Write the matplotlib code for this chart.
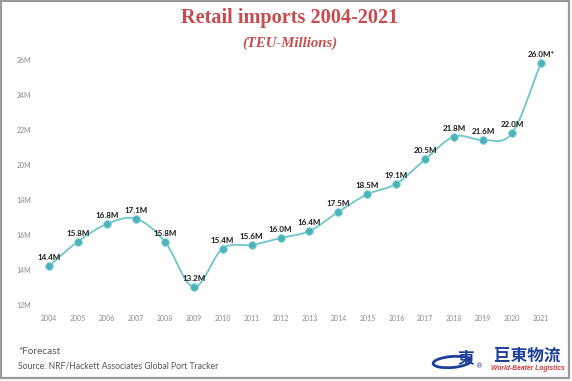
import numpy as np
import matplotlib
matplotlib.use("Agg")
import matplotlib.pyplot as plt
from matplotlib.patches import Rectangle, Ellipse
from matplotlib.transforms import ScaledTranslation

years = list(range(2004, 2022))
teu = [14.4, 15.8, 16.8, 17.1, 15.8, 13.2, 15.4, 15.6, 16.0, 16.4,
       17.5, 18.5, 19.1, 20.5, 21.8, 21.6, 22.0, 26.0]
point_labels = ["14.4M", "15.8M", "16.8M", "17.1M", "15.8M", "13.2M", "15.4M",
                "15.6M", "16.0M", "16.4M", "17.5M", "18.5M", "19.1M", "20.5M",
                "21.8M", "21.6M", "22.0M", "26.0M*"]
y_ticks = [12, 14, 16, 18, 20, 22, 24, 26]
y_tick_labels = ["12M", "14M", "16M", "18M", "20M", "22M", "24M", "26M"]

W, H = 572, 381


def smooth(xs, ys, n=20):
    ''' Catmull-Rom curve through the points, for a smooth line style '''
    xs = np.asarray(xs, float)
    ys = np.asarray(ys, float)
    px = np.concatenate([[2 * xs[0] - xs[1]], xs, [2 * xs[-1] - xs[-2]]])
    py = np.concatenate([[2 * ys[0] - ys[1]], ys, [2 * ys[-1] - ys[-2]]])
    out_x, out_y = [], []
    t = np.linspace(0, 1, n, endpoint=False)
    for i in range(1, len(px) - 2):
        for p, out in ((px, out_x), (py, out_y)):
            p0, p1, p2, p3 = p[i - 1], p[i], p[i + 1], p[i + 2]
            c = 0.5 * ((2 * p1) + (-p0 + p2) * t +
                       (2 * p0 - 5 * p1 + 4 * p2 - p3) * t**2 +
                       (-p0 + 3 * p1 - 3 * p2 + p3) * t**3)
            out.extend(c)
    out_x.append(xs[-1])
    out_y.append(ys[-1])
    return out_x, out_y


fig = plt.figure(figsize=(W / 100, H / 100), dpi=100)
fig.patch.set_facecolor("white")

# plot area: 2004 at x=49px, 2021 at 541px, 12M at 308px, 26M at 63px
ax = fig.add_axes([49 / W, (H - 308) / H, (541 - 49) / W, (308 - 63) / H])
ax.set_xlim(2004, 2021)
ax.set_ylim(12, 26)
for s in ax.spines.values():
    s.set_visible(False)

sx, sy = smooth(years, teu)
ax.plot(sx, sy, color="#6fc6c9", lw=1.3, clip_on=False, zorder=2)
ax.scatter(years, teu, s=30, color="#4db3ba", edgecolor="#7fd0d3", lw=0.6,
           zorder=3, clip_on=False)
for x, y, lab in zip(years, teu, point_labels):
    ax.annotate(lab, (x, y), xytext=(0, 3.5), textcoords="offset points",
                ha="center", va="bottom", fontsize=5.8, fontweight="bold",
                color="#1a1a1a", family="Lato", zorder=4)

ax.set_xticks(years)
ax.set_xticklabels([str(y) for y in years])
ax.set_yticks(y_ticks)
ax.set_yticklabels(y_tick_labels)
ax.tick_params(axis="x", length=0, labelsize=5, labelcolor="#8a8a8a", pad=5)
ax.tick_params(axis="y", length=0, labelsize=5, labelcolor="#8a8a8a", pad=13)
for t in ax.get_xticklabels() + ax.get_yticklabels():
    t.set_family("Lato")
# y labels sit a little above their gridline positions
shift = ScaledTranslation(0, 3 / 100, fig.dpi_scale_trans)
for t in ax.get_yticklabels():
    t.set_transform(t.get_transform() + shift)

fig.text(0.507, 1 - 18 / H, "Retail imports 2004-2021", ha="center", va="center",
         fontsize=14.6, fontweight="bold", color="#c94b4f", family="Liberation Serif")
fig.text(0.507, 1 - 43 / H, "(TEU-Millions)", ha="center", va="center",
         fontsize=10.6, fontweight="bold", style="italic", color="#c94b4f",
         family="Liberation Serif")

fig.text(18 / W, 1 - 351 / H, "*Forecast", ha="left", va="center",
         fontsize=7.2, color="#555555", family="Lato")
fig.text(18 / W, 1 - 366 / H, "Source: NRF/Hackett Associates Global Port Tracker",
         ha="left", va="center", fontsize=6.2, color="#555555", family="Lato")

# logo at the bottom right
fig.patches.append(Ellipse((452 / W, 1 - 362 / H), 38 / W, 11 / H, angle=8,
                           fill=False, ec="#1d3f9a", lw=2.0,
                           transform=fig.transFigure))
fig.text(466 / W, 1 - 359 / H, "東", ha="center", va="center", fontsize=12,
         fontweight="bold", style="italic", color="#1d3f9a",
         family="Noto Sans CJK TC")
fig.text(480 / W, 1 - 366 / H, "®", ha="center", va="center", fontsize=5,
         color="#1d3f9a")
fig.text(527 / W, 1 - 356 / H, "巨東物流", ha="center", va="center", fontsize=12,
         fontweight="bold", color="#1d3f9a", family="Noto Sans CJK TC")
fig.text(528 / W, 1 - 368.5 / H, "World-Beater Logistics", ha="center", va="center",
         fontsize=4.9, style="italic", fontweight="bold", color="#d23a3a",
         family="Liberation Sans")

# grey frame around the picture
fig.patches.append(Rectangle((1 / W, 3 / H), (W - 4) / W, (H - 4) / H, fill=False,
                             ec="#9a9a9a", lw=1.6, transform=fig.transFigure))

fig.savefig("out.png", dpi=100)
